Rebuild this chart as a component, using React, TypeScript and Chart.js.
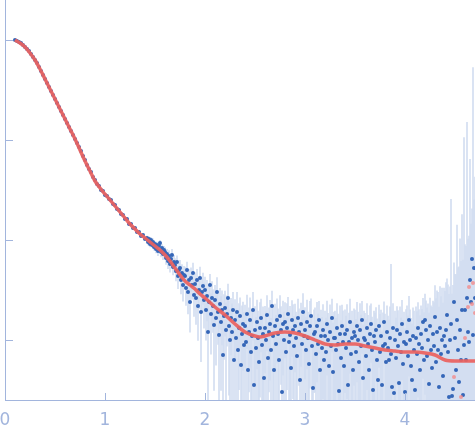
import React, { useEffect, useRef } from "react";
import { Chart, registerables } from "chart.js";

Chart.register(...registerables);

// Scattering vector q (nm^-1) and log10 intensity, low-q region (smooth)
const qLow = [
  0.10, 0.12, 0.14, 0.16, 0.18, 0.20, 0.22, 0.24, 0.26, 0.28,
  0.30, 0.32, 0.34, 0.36, 0.38, 0.40, 0.42, 0.44, 0.46, 0.48,
  0.50, 0.52, 0.54, 0.56, 0.58, 0.60, 0.62, 0.64, 0.66, 0.68,
  0.70, 0.72, 0.74, 0.76, 0.78, 0.80, 0.82, 0.84, 0.86, 0.88,
  0.90, 0.92, 0.94, 0.96, 0.98, 1.00, 1.02, 1.04, 1.06, 1.08,
  1.10, 1.12, 1.14, 1.16, 1.18, 1.20, 1.22, 1.24, 1.26, 1.28,
  1.30, 1.32, 1.34, 1.36, 1.38, 1.40,
];
const logILow = [
  0.00, -0.01, -0.02, -0.03, -0.05, -0.07, -0.09, -0.11, -0.14, -0.17,
  -0.20, -0.23, -0.27, -0.31, -0.35, -0.39, -0.43, -0.47, -0.51, -0.55,
  -0.59, -0.63, -0.67, -0.71, -0.75, -0.79, -0.83, -0.87, -0.91, -0.95,
  -0.99, -1.03, -1.07, -1.11, -1.16, -1.20, -1.25, -1.29, -1.32, -1.37,
  -1.40, -1.44, -1.46, -1.50, -1.51, -1.55, -1.56, -1.59, -1.60, -1.64,
  -1.65, -1.69, -1.70, -1.74, -1.75, -1.79, -1.79, -1.84, -1.84, -1.88,
  -1.88, -1.92, -1.92, -1.96, -1.95, -1.99,
];

// High-q region (noisy), with error sigma (units of 1e-3, linear intensity)
const qHigh = [
  1.42, 1.43, 1.44, 1.45, 1.46, 1.47, 1.48, 1.49,
  1.50, 1.51, 1.52, 1.53, 1.54, 1.55, 1.56, 1.57, 1.58, 1.59,
  1.60, 1.61, 1.62, 1.63, 1.64, 1.65, 1.66, 1.67, 1.68, 1.69,
  1.70, 1.71, 1.72, 1.73, 1.74, 1.75, 1.76, 1.77, 1.78, 1.79,
  1.80, 1.81, 1.82, 1.83, 1.84, 1.85, 1.86, 1.87, 1.88, 1.89,
  1.90, 1.91, 1.92, 1.93, 1.94, 1.95, 1.96, 1.97, 1.98, 1.99,
  2.00, 2.01, 2.02, 2.03, 2.04, 2.05, 2.06, 2.07, 2.08, 2.09,
  2.10, 2.11, 2.12, 2.13, 2.14, 2.15, 2.16, 2.17, 2.18, 2.19,
  2.20, 2.21, 2.22, 2.23, 2.24, 2.25, 2.26, 2.27, 2.28, 2.29,
  2.30, 2.31, 2.32, 2.33, 2.34, 2.35, 2.36, 2.37, 2.38, 2.39,
  2.40, 2.41, 2.42, 2.43, 2.44, 2.45, 2.46, 2.47, 2.48, 2.49,
  2.50, 2.51, 2.52, 2.53, 2.54, 2.55, 2.56, 2.57, 2.58, 2.59,
  2.60, 2.61, 2.62, 2.63, 2.64, 2.65, 2.66, 2.67, 2.68, 2.69,
  2.70, 2.71, 2.72, 2.73, 2.74, 2.75, 2.76, 2.77, 2.78, 2.79,
  2.80, 2.81, 2.82, 2.83, 2.84, 2.85, 2.86, 2.87, 2.88, 2.89,
  2.90, 2.91, 2.92, 2.93, 2.94, 2.95, 2.96, 2.97, 2.98, 2.99,
  3.00, 3.01, 3.02, 3.03, 3.04, 3.05, 3.06, 3.07, 3.08, 3.09,
  3.10, 3.11, 3.12, 3.13, 3.14, 3.15, 3.16, 3.17, 3.18, 3.19,
  3.20, 3.21, 3.22, 3.23, 3.24, 3.25, 3.26, 3.27, 3.28, 3.29,
  3.30, 3.31, 3.32, 3.33, 3.34, 3.35, 3.36, 3.37, 3.38, 3.39,
  3.40, 3.41, 3.42, 3.43, 3.44, 3.45, 3.46, 3.47, 3.48, 3.49,
  3.50, 3.51, 3.52, 3.53, 3.54, 3.55, 3.56, 3.57, 3.58, 3.59,
  3.60, 3.61, 3.62, 3.63, 3.64, 3.65, 3.66, 3.67, 3.68, 3.69,
  3.70, 3.71, 3.72, 3.73, 3.74, 3.75, 3.76, 3.77, 3.78, 3.79,
  3.80, 3.81, 3.82, 3.83, 3.84, 3.85, 3.86, 3.87, 3.88, 3.89,
  3.90, 3.91, 3.92, 3.93, 3.94, 3.95, 3.96, 3.97, 3.98, 3.99,
  4.00, 4.01, 4.02, 4.03, 4.04, 4.05, 4.06, 4.07, 4.08, 4.09,
  4.10, 4.11, 4.12, 4.13, 4.14, 4.15, 4.16, 4.17, 4.18, 4.19,
  4.20, 4.21, 4.22, 4.23, 4.24, 4.25, 4.26, 4.27, 4.28, 4.29,
  4.30, 4.31, 4.32, 4.33, 4.34, 4.35, 4.36, 4.37, 4.38, 4.39,
  4.40, 4.41, 4.42, 4.43, 4.44, 4.45, 4.46, 4.47, 4.48, 4.49,
  4.50, 4.51, 4.52, 4.53, 4.54, 4.55, 4.56, 4.57, 4.58, 4.59,
  4.60, 4.61, 4.62, 4.63, 4.64, 4.65, 4.66, 4.67, 4.68, 4.69,
  4.70,
];
const logIHigh = [
  -1.98, -2.02, -1.99, -2.04, -2.00, -2.05, -2.02, -2.07,
  -2.04, -2.09, -2.05, -2.11, -2.06, -2.03, -2.12, -2.08, -2.14, -2.10,
  -2.12, -2.18, -2.14, -2.21, -2.16, -2.24, -2.19, -2.15, -2.27, -2.22,
  -2.25, -2.31, -2.22, -2.36, -2.30, -2.28, -2.40, -2.33, -2.45, -2.35,
  -2.36, -2.48, -2.30, -2.52, -2.40, -2.62, -2.38, -2.45, -2.33, -2.55,
  -2.44, -2.58, -2.40, -2.66, -2.50, -2.38, -2.72, -2.52, -2.46, -2.60,
  -2.50, -2.70, -2.56, -2.92, -2.62, -2.45, -2.74, -2.58, -2.66, -2.85,
  -2.60, -2.78, -2.52, -2.72, -2.95, -2.64, -2.82, -2.70, -3.15, -2.76,
  -2.68, -2.90, -2.74, -2.58, -2.86, -3.00, -2.78, -2.92, -2.70, -3.20,
  -2.80, -2.98, -2.72, -3.10, -2.88, -2.76, -3.25, -2.94, -2.84, -3.05,
  -2.86, -3.02, -2.74, -3.30, -2.92, -2.80, -3.12, -2.96, -2.70, -3.45,
  -2.90, -3.08, -2.82, -2.98, -3.22, -2.88, -2.78, -3.05, -2.94, -3.38,
  -2.88, -3.00, -2.75, -3.18, -2.92, -2.84, -3.10, -2.66, -2.96, -3.30,
  -2.86, -3.04, -2.80, -2.94, -3.20, -2.76, -2.90, -3.52, -2.84, -3.00,
  -2.82, -3.12, -2.88, -2.74, -3.02, -2.95, -3.28, -2.80, -2.90, -3.06,
  -2.86, -2.98, -3.16, -2.78, -2.92, -3.40, -2.84, -3.04, -2.72, -2.96,
  -2.90, -3.10, -2.82, -2.98, -3.24, -2.86, -2.76, -3.06, -3.48, -2.94,
  -2.92, -3.14, -2.86, -3.04, -2.80, -3.30, -2.96, -3.08, -2.90, -3.20,
  -2.96, -3.12, -2.84, -3.00, -3.26, -2.92, -3.06, -2.78, -3.32, -2.98,
  -2.98, -3.10, -2.88, -3.04, -3.51, -2.94, -3.18, -2.86, -3.02, -3.26,
  -2.94, -3.08, -2.90, -3.45, -3.02, -2.82, -3.14, -2.98, -3.30, -2.92,
  -2.96, -3.12, -2.86, -3.00, -3.22, -2.90, -3.06, -2.80, -3.38, -2.98,
  -3.00, -3.16, -2.88, -3.04, -3.30, -2.94, -2.84, -3.10, -3.50, -2.96,
  -3.02, -2.90, -3.20, -3.40, -2.86, -3.12, -2.96, -3.45, -3.06, -2.82,
  -3.04, -3.22, -2.92, -3.08, -3.20, -2.98, -3.14, -3.47, -2.88, -3.53,
  -3.00, -3.18, -2.90, -3.06, -3.43, -2.94, -3.12, -2.84, -3.24, -3.02,
  -3.52, -3.04, -2.92, -3.16, -2.80, -3.00, -3.26, -3.40, -2.96, -3.10,
  -3.50, -2.98, -3.14, -2.88, -3.04, -3.30, -2.94, -3.08, -2.82, -3.20,
  -2.80, -2.90, -3.16, -3.00, -3.44, -2.86, -3.10, -3.28, -2.94, -3.06,
  -2.77, -3.22, -2.92, -3.10, -3.47, -2.88, -3.14, -3.00, -3.36, -2.96,
  -3.06, -2.90, -2.75, -3.12, -3.57, -3.00, -2.84, -3.56, -3.49, -2.62,
  -2.98, -3.30, -2.80, -3.10, -3.42, -2.90, -3.20, -2.70, -3.55, -3.05,
  -2.70, -3.20, -2.58, -2.92, -3.02, -2.40, -2.62, -2.19, -2.95, -2.28,
  -2.58,
];
const sigmaHigh = [
  0.5, 0.6, 0.5, 0.6, 0.6, 0.5, 0.7, 0.6,
  0.6, 0.7, 0.6, 0.8, 0.7, 0.6, 0.8, 0.7, 0.9, 0.7,
  0.8, 0.9, 0.8, 1.0, 0.9, 1.0, 0.9, 1.0, 0.9, 1.0,
  0.9, 1.0, 0.9, 1.1, 1.0, 1.0, 1.1, 1.0, 1.1, 1.0,
  1.0, 1.1, 1.0, 1.2, 1.1, 1.2, 1.1, 1.0, 1.2, 1.1,
  1.1, 1.2, 1.1, 1.2, 1.1, 1.2, 1.3, 1.1, 1.2, 1.2,
  1.1, 1.0, 1.2, 1.1, 1.2, 1.0, 1.1, 1.2, 1.0, 1.1,
  1.0, 1.1, 1.2, 1.0, 1.1, 1.0, 1.2, 1.1, 1.0, 1.1,
  1.0, 1.1, 0.95, 1.0, 1.1, 1.0, 0.95, 1.1, 1.0, 1.0,
  0.95, 1.0, 1.1, 0.95, 1.0, 0.9, 1.0, 1.05, 0.95, 1.0,
  0.85, 0.9, 1.0, 0.85, 0.9, 1.05, 0.85, 0.9, 1.0, 0.85,
  0.9, 0.85, 1.0, 0.9, 0.85, 1.05, 0.9, 0.85, 1.0, 0.9,
  0.85, 0.9, 1.0, 0.85, 0.9, 1.05, 0.85, 0.9, 1.0, 0.85,
  0.9, 0.85, 1.0, 0.9, 0.85, 1.05, 0.9, 0.85, 1.0, 0.9,
  0.85, 0.9, 1.0, 0.85, 0.9, 1.05, 0.85, 0.9, 1.0, 0.85,
  0.9, 0.85, 1.0, 0.9, 0.85, 1.05, 0.9, 0.85, 1.0, 0.9,
  0.85, 0.9, 1.0, 0.85, 0.9, 1.05, 0.85, 0.9, 1.0, 0.85,
  0.9, 0.85, 1.0, 0.9, 0.85, 1.05, 0.9, 0.85, 1.0, 0.9,
  0.85, 0.9, 1.0, 0.85, 0.9, 1.05, 0.85, 0.9, 1.0, 0.85,
  0.9, 0.85, 1.0, 0.9, 0.85, 1.05, 0.9, 0.85, 1.0, 0.9,
  0.85, 0.9, 1.0, 0.85, 0.9, 1.05, 0.85, 0.9, 1.0, 0.85,
  0.9, 0.85, 1.0, 0.9, 0.85, 1.05, 0.9, 0.85, 1.0, 0.9,
  0.85, 0.9, 1.0, 0.85, 0.9, 1.05, 0.85, 0.9, 1.0, 0.85,
  0.9, 0.85, 1.0, 0.9, 0.85, 1.05, 0.9, 0.85, 1.0, 0.9,
  0.9, 0.95, 1.0, 0.9, 0.95, 1.1, 5.0, 0.9, 1.0, 0.95,
  0.95, 1.0, 0.9, 1.1, 0.95, 1.0, 0.9, 1.05, 1.0, 0.95,
  1.0, 1.1, 1.0, 1.05, 1.15, 1.0, 1.1, 1.05, 1.0, 1.15,
  1.05, 1.1, 1.2, 1.05, 1.1, 1.25, 1.05, 1.2, 1.1, 1.25,
  1.3, 1.2, 1.4, 1.3, 1.5, 1.25, 1.4, 1.6, 1.3, 1.5,
  1.8, 2.0, 1.9, 2.2, 1.8, 2.1, 2.0, 2.3, 1.9, 2.2,
  2.2, 2.5, 2.3, 2.8, 2.6, 2.4, 24, 2.6, 3.2, 3.5,
  3.5, 4.0, 12.5, 4.5, 5.0, 9.0, 5.5, 16, 6.0, 105,
  7.0, 8.0, 148, 9.0, 10, 60, 12, 14, 530, 20,
  40,
];
const SIGMA_UNIT = 1e-3;

// Model fit curve (log10 intensity)
const fitQ = [
  0.10, 0.15, 0.20, 0.25, 0.30, 0.35, 0.40, 0.45, 0.50, 0.55,
  0.60, 0.65, 0.70, 0.75, 0.80, 0.85, 0.90, 0.95, 1.00, 1.05,
  1.10, 1.15, 1.20, 1.25, 1.30, 1.35, 1.40, 1.45, 1.50, 1.55,
  1.60, 1.65, 1.70, 1.75, 1.80, 1.85, 1.90, 1.95, 2.00, 2.10,
  2.20, 2.30, 2.40, 2.50, 2.55, 2.60, 2.70, 2.80, 2.90, 3.00,
  3.10, 3.20, 3.30, 3.40, 3.50, 3.60, 3.70, 3.80, 3.90, 4.00,
  4.10, 4.20, 4.30, 4.40, 4.50, 4.60, 4.70,
];
const fitLogI = [
  0.00, -0.03, -0.07, -0.13, -0.20, -0.29, -0.39, -0.49, -0.59, -0.69,
  -0.79, -0.89, -0.99, -1.10, -1.21, -1.31, -1.41, -1.48, -1.54, -1.60,
  -1.66, -1.72, -1.78, -1.84, -1.89, -1.94, -1.98, -2.02, -2.06, -2.10,
  -2.15, -2.21, -2.28, -2.35, -2.41, -2.45, -2.49, -2.54, -2.58, -2.67,
  -2.75, -2.84, -2.92, -2.96, -2.97, -2.96, -2.93, -2.92, -2.93, -2.96,
  -3.00, -3.04, -3.05, -3.04, -3.04, -3.06, -3.08, -3.10, -3.11, -3.12,
  -3.12, -3.13, -3.15, -3.20, -3.21, -3.21, -3.21,
];

// Excluded / outlier points (light red)
const outlierQ = [4.49, 4.56, 4.60, 4.63, 4.64, 4.67, 4.68, 4.70];
const outlierLogI = [-3.37, -3.57, -2.98, -2.67, -2.47, -2.64, -2.43, -2.73];

const xTicks = [0, 1, 2, 3, 4];
const yTicks = [-3, -2, -1, 0];

const AXIS_COLOR = "#a2b5dd";

export default function App() {
  const ref = useRef<HTMLCanvasElement>(null);

  useEffect(() => {
    document.body.style.margin = "0";
    const canvas = ref.current;
    if (!canvas) return;

    const Y_MIN = -3.6;
    const Y_MAX = 0.4;
    const BELOW = -5;

    const errBars = qHigh.map((q, i) => {
      const I = Math.pow(10, logIHigh[i]);
      const s = sigmaHigh[i] * SIGMA_UNIT;
      const top = Math.log10(I + s);
      const bot = I - s > 0 ? Math.log10(I - s) : BELOW;
      return { x: q, y: [bot, top] };
    });

    const points = [
      ...qLow.map((q, i) => ({ x: q, y: logILow[i] })),
      ...qHigh.map((q, i) => ({ x: q, y: logIHigh[i] })),
    ];
    const fit = fitQ.map((q, i) => ({ x: q, y: fitLogI[i] }));
    const outliers = outlierQ.map((q, i) => ({ x: q, y: outlierLogI[i] }));

    const tickMarks = {
      id: "tickMarks",
      afterDatasetsDraw(chart: any) {
        const { ctx, chartArea, scales } = chart;
        ctx.save();
        ctx.strokeStyle = AXIS_COLOR;
        ctx.lineWidth = 1;
        ctx.beginPath();
        xTicks.forEach((v) => {
          if (v === 0) return;
          const px = Math.round(scales.x.getPixelForValue(v)) + 0.5;
          ctx.moveTo(px, chartArea.bottom);
          ctx.lineTo(px, chartArea.bottom - 7);
        });
        yTicks.forEach((v) => {
          const py = Math.round(scales.y.getPixelForValue(v)) + 0.5;
          ctx.moveTo(chartArea.left, py);
          ctx.lineTo(chartArea.left + 8, py);
        });
        ctx.stroke();
        ctx.restore();
      },
    };

    const chart = new Chart(canvas, {
      type: "scatter",
      data: {
        datasets: [
          {
            type: "line",
            data: fit,
            borderColor: "rgba(236,98,94,0.92)",
            borderWidth: 3.5,
            pointRadius: 0,
            cubicInterpolationMode: "monotone",
            fill: false,
            order: 0,
          } as any,
          {
            type: "scatter",
            data: outliers,
            pointRadius: 2,
            pointBackgroundColor: "rgba(244,140,140,0.8)",
            pointBorderWidth: 0,
            order: 1,
          } as any,
          {
            type: "scatter",
            data: points,
            pointRadius: 2,
            pointBackgroundColor: "#3566b8",
            pointBorderWidth: 0,
            order: 2,
          } as any,
          {
            type: "bar",
            data: errBars,
            backgroundColor: "#d3def1",
            borderWidth: 0,
            barThickness: 1,
            order: 3,
          } as any,
        ],
      },
      options: {
        responsive: false,
        animation: false,
        devicePixelRatio: 1,
        layout: { padding: 0, autoPadding: false },
        plugins: {
          legend: { display: false },
          tooltip: { enabled: false },
        },
        scales: {
          x: {
            type: "linear",
            min: 0,
            max: 4.7,
            offset: false,
            grid: { display: false, offset: false, drawTicks: false },
            border: { display: true, color: AXIS_COLOR, width: 1 },
            ticks: {
              stepSize: 1,
              includeBounds: false,
              color: AXIS_COLOR,
              padding: 10,
              maxRotation: 0,
              font: { family: "'DejaVu Sans'", size: 17 },
            },
            afterFit: (s: any) => {
              s.height = 38;
              s.paddingLeft = 0;
              s.paddingRight = 0;
            },
          },
          y: {
            type: "linear",
            min: Y_MIN,
            max: Y_MAX,
            beginAtZero: false,
            grid: { display: false, drawTicks: false },
            border: { display: true, color: AXIS_COLOR, width: 1 },
            ticks: { display: false, stepSize: 1, includeBounds: false },
            afterFit: (s: any) => {
              s.width = 5;
              s.paddingTop = 0;
              s.paddingBottom = 0;
            },
          },
        },
      } as any,
      plugins: [tickMarks],
    });

    return () => chart.destroy();
  }, []);

  return (
    <canvas
      ref={ref}
      width={475}
      height={438}
      style={{ display: "block", width: 475, height: 438 }}
    />
  );
}
